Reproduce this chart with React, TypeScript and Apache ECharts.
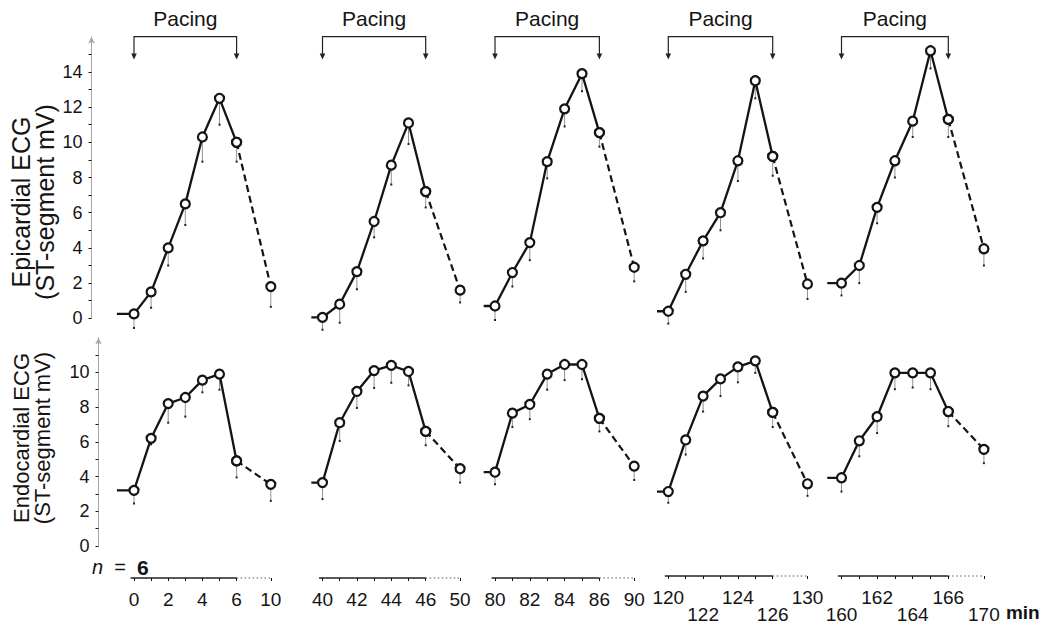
import React, { useEffect, useRef } from "react";
import * as echarts from "echarts";

// ---------- data ----------
const panelMinutes = [
  [0, 1, 2, 3, 4, 5, 6, 10],
  [40, 41, 42, 43, 44, 45, 46, 50],
  [80, 81, 82, 83, 84, 85, 86, 90],
  [120, 121, 122, 123, 124, 125, 126, 130],
  [160, 161, 162, 163, 164, 165, 166, 170],
];
const labelMinutes = [
  [0, 2, 4, 6, 10],
  [40, 42, 44, 46, 50],
  [80, 82, 84, 86, 90],
  [120, 122, 124, 126, 130],
  [160, 162, 164, 166, 170],
];
const lowerRowMinutes = [122, 126, 160, 164, 170];

const epiMean = [
  [0.25, 1.5, 4.0, 6.5, 10.3, 12.5, 10.0, 1.8],
  [0.05, 0.8, 2.65, 5.5, 8.7, 11.1, 7.2, 1.6],
  [0.7, 2.6, 4.3, 8.9, 11.9, 13.9, 10.55, 2.9],
  [0.4, 2.5, 4.4, 6.0, 8.95, 13.5, 9.2, 1.95],
  [2.0, 3.0, 6.3, 8.95, 11.2, 15.2, 11.3, 3.95],
];
const epiLow = [
  [-0.55, 0.6, 3.0, 5.3, 8.9, 11.0, 8.9, 0.65],
  [-0.65, -0.25, 1.65, 4.6, 7.6, 9.9, 6.3, 0.9],
  [-0.1, 1.8, 3.3, 7.95, 10.9, 12.9, 9.75, 2.1],
  [-0.3, 1.5, 3.4, 5.0, 7.8, 12.5, 8.1, 1.1],
  [1.3, 2.0, 5.4, 8.0, 10.3, 14.2, 10.3, 3.0],
];
const endoMean = [
  [3.2, 6.2, 8.2, 8.55, 9.55, 9.9, 4.9, 3.55],
  [3.65, 7.1, 8.9, 10.1, 10.4, 10.05, 6.6, 4.45],
  [4.25, 7.65, 8.15, 9.9, 10.45, 10.45, 7.35, 4.6],
  [3.05, 6.05, 8.6, 9.6, 10.3, 10.65, 7.65, 3.5],
  [3.85, 6.0, 7.4, 9.95, 9.95, 9.95, 7.7, 5.5],
];
const endoLow = [
  [2.45, 5.85, 7.1, 7.45, 8.85, 9.0, 3.95, 2.6],
  [2.7, 6.05, 7.95, 9.1, 9.4, 9.25, 5.8, 3.65],
  [3.55, 6.85, 7.3, 9.0, 9.55, 9.6, 6.6, 3.8],
  [2.4, 5.2, 7.7, 8.6, 9.4, 9.95, 6.8, 2.8],
  [3.05, 5.1, 6.45, 9.0, 9.1, 9.0, 6.85, 4.7],
];
const epiTicks = [0, 2, 4, 6, 8, 10, 12, 14];
const endoTicks = [0, 2, 4, 6, 8, 10];
const epiTitle = "Epicardial ECG\n(ST-segment mV)";
const endoTitle = "Endocardial ECG\n(ST-segment mV)";

// ---------- layout ----------
const FONT = "'Liberation Sans', Arial, Helvetica, sans-serif";
const pos0 = [134, 322.5, 495, 668.3, 841.5];
const step = [17.1, 17.2, 17.4, 17.4, 17.8];
const stubStart = [-1, -0.65, -0.65, -0.65, -0.8];
const X_AXIS_OFFSET = 32;
const INK = "#141414";

const posOf = (i: number) => (i <= 6 ? i : 8);
const idxOf = (p: number) => (p <= 6 ? p : 7);

function buildOption() {
  const grid: any[] = [];
  const xAxis: any[] = [];
  const yAxis: any[] = [];
  const series: any[] = [];

  for (let row = 0; row < 2; row++) {
    for (let p = 0; p < 5; p++) {
      const gi = row * 5 + p;
      const left = pos0[p] - step[p];
      const width = 9 * step[p];
      if (row === 0) grid.push({ left, width, top: 36.7, height: 281.6 });
      else grid.push({ left, width, top: 337.6, height: 208.4 });

      const labelPos = labelMinutes[p].map((m) => posOf(panelMinutes[p].indexOf(m)));
      xAxis.push({
        type: "value",
        gridIndex: gi,
        min: -1,
        max: 8,
        interval: 1,
        show: row === 1,
        position: "bottom",
        offset: X_AXIS_OFFSET,
        axisLine: { show: false, onZero: false },
        splitLine: { show: false },
        axisTick: {
          show: true,
          length: 3,
          customValues: [0, 1, 2, 3, 4, 5, 6, 8],
          lineStyle: { color: INK, width: 1 },
        },
        axisLabel: {
          customValues: labelPos,
          fontSize: 19,
          fontFamily: FONT,
          color: INK,
          margin: 13,
          lineHeight: 17,
          formatter: (v: number) => {
            if (!labelPos.includes(v)) return "";
            const m = panelMinutes[p][idxOf(v)];
            return lowerRowMinutes.includes(m) ? "\n" + m : String(m);
          },
        },
      });

      const isFirst = p === 0;
      const ticks = row === 0 ? epiTicks : endoTicks;
      const max = row === 0 ? 16 : 12;
      const tickVals: number[] = [];
      for (let v = 0; v < max; v++) tickVals.push(v);
      yAxis.push({
        type: "value",
        gridIndex: gi,
        min: 0,
        max,
        interval: 1,
        show: isFirst,
        position: "left",
        offset: isFirst ? (row === 0 ? left - 91.5 : left - 98.5) : 0,
        axisLine: {
          show: true,
          onZero: false,
          symbol: ["none", "arrow"],
          symbolSize: [5, 7],
          lineStyle: { color: "#a8a8a8", width: 1 },
        },
        splitLine: { show: false },
        axisTick: {
          show: true,
          length: 3,
          customValues: tickVals,
          lineStyle: { color: INK, width: 1 },
        },
        axisLabel: {
          customValues: ticks,
          fontSize: 18,
          fontFamily: FONT,
          color: INK,
          margin: 9,
          formatter: (v: number) => (ticks.includes(v) ? String(v) : ""),
        },
      });

      const mean = row === 0 ? epiMean[p] : endoMean[p];
      const low = row === 0 ? epiLow[p] : endoLow[p];

      // error bars (SD, drawn downward)
      series.push({
        type: "custom",
        xAxisIndex: gi,
        yAxisIndex: gi,
        silent: true,
        z: 1,
        encode: { x: 0, y: [1, 2] },
        data: mean.map((v, i) => [posOf(i), v, low[i]]),
        renderItem: (params: any, api: any) => {
          const a = api.coord([api.value(0), api.value(1)]);
          const b = api.coord([api.value(0), api.value(2)]);
          return {
            type: "group",
            children: [
              {
                type: "line",
                shape: { x1: a[0], y1: a[1], x2: b[0], y2: b[1] },
                style: { stroke: "#777", lineWidth: 0.8 },
              },
              {
                type: "rect",
                shape: { x: b[0] - 1, y: b[1] - 1, width: 2, height: 2 },
                style: { fill: "#222" },
              },
            ],
          };
        },
      });

      // pacing period (solid), with pre-pacing baseline stub
      const solid: any[] = [{ value: [stubStart[p], mean[0]], symbol: "none" }];
      for (let i = 0; i <= 6; i++) solid.push({ value: [posOf(i), mean[i]] });
      series.push({
        type: "line",
        xAxisIndex: gi,
        yAxisIndex: gi,
        z: 3,
        clip: false,
        data: solid,
        symbol: "circle",
        symbolSize: 9,
        showAllSymbol: true,
        lineStyle: { color: INK, width: 2.3 },
        itemStyle: { color: "#fff", borderColor: INK, borderWidth: 2.2 },
      });
      // recovery (dashed)
      series.push({
        type: "line",
        xAxisIndex: gi,
        yAxisIndex: gi,
        z: 2,
        clip: false,
        data: [
          [posOf(6), mean[6]],
          [posOf(7), mean[7]],
        ],
        symbol: "circle",
        symbolSize: 9,
        lineStyle: { color: INK, width: 2.2, type: [7, 4] },
        itemStyle: { color: "#fff", borderColor: INK, borderWidth: 2.2 },
      });
    }
  }

  return {
    animation: false,
    backgroundColor: "#fff",
    textStyle: { fontFamily: FONT },
    grid,
    xAxis,
    yAxis,
    series,
  };
}

function buildGraphics(chart: any) {
  const g: any[] = [];
  const px = (gi: number, x: number, y: number) =>
    chart.convertToPixel({ xAxisIndex: gi, yAxisIndex: gi }, [x, y]);

  // y-axis titles (rotated)
  const titles = [
    { text: epiTitle, x: 33, y: 202, size: 25, lh: 24 },
    { text: endoTitle, x: 32, y: 438, size: 22, lh: 21 },
  ];
  titles.forEach((t) =>
    g.push({
      type: "text",
      x: t.x,
      y: t.y,
      rotation: Math.PI / 2,
      style: {
        text: t.text,
        fontSize: t.size,
        lineHeight: t.lh,
        fontFamily: FONT,
        fill: INK,
        align: "center",
        verticalAlign: "middle",
        textAlign: "center",
        textVerticalAlign: "middle",
      },
    })
  );

  for (let p = 0; p < 5; p++) {
    // "Pacing" bracket over the top panel
    const a = px(p, 0, 16);
    const b = px(p, 6, 16);
    const a2 = px(p, 0, 14.7);
    const b2 = px(p, 6, 14.7);
    g.push({
      type: "polyline",
      shape: { points: [[a2[0], a2[1] - 5], a, b, [b2[0], b2[1] - 5]] },
      style: { stroke: "#222", lineWidth: 1.2, fill: null },
    });
    [a2, b2].forEach((t) =>
      g.push({
        type: "polygon",
        shape: { points: [[t[0] - 2.8, t[1] - 6], [t[0] + 2.8, t[1] - 6], [t[0], t[1]]] },
        style: { fill: "#222" },
      })
    );
    const c = px(p, 3, 17.05);
    g.push({
      type: "text",
      x: c[0],
      y: c[1],
      style: {
        text: "Pacing",
        fontSize: 21,
        fontFamily: FONT,
        fill: INK,
        align: "center",
        verticalAlign: "middle",
        textAlign: "center",
        textVerticalAlign: "middle",
      },
    });

    // broken time axis below the bottom panel
    const gi = 5 + p;
    const ay = px(gi, 0, 0)[1] + X_AXIS_OFFSET;
    const s = px(gi, -0.2, 0)[0];
    const m = px(gi, 6, 0)[0];
    const e = px(gi, 8, 0)[0];
    g.push({
      type: "line",
      shape: { x1: s, y1: ay, x2: m, y2: ay },
      style: { stroke: "#222", lineWidth: 1.6 },
    });
    g.push({
      type: "line",
      shape: { x1: m, y1: ay, x2: e, y2: ay },
      style: { stroke: "#555", lineWidth: 1.2, lineDash: [1.5, 2.5] },
    });

    if (p === 0) {
      g.push({
        type: "text",
        x: 92,
        y: ay - 11,
        style: {
          text: "{i|n}  =  {b|6}",
          fontSize: 20,
          fontFamily: FONT,
          fill: INK,
          verticalAlign: "middle",
          textVerticalAlign: "middle",
          rich: {
            i: { fontStyle: "italic", fontSize: 20, fontFamily: FONT, fill: INK },
            b: { fontWeight: "bold", fontSize: 21, fontFamily: FONT, fill: INK },
          },
        },
      });
    }
    if (p === 4) {
      g.push({
        type: "text",
        x: e + 22,
        y: ay + 36,
        style: {
          text: "min",
          fontSize: 19,
          fontWeight: "bold",
          fontFamily: FONT,
          fill: INK,
          verticalAlign: "middle",
          textVerticalAlign: "middle",
        },
      });
    }
  }
  return g;
}

export default function App() {
  const ref = useRef<HTMLDivElement>(null);
  useEffect(() => {
    document.body.style.margin = "0";
    if (!ref.current) return;
    const chart = echarts.init(ref.current, null, { renderer: "svg" });
    chart.setOption(buildOption());
    chart.setOption({ graphic: buildGraphics(chart) });
    return () => chart.dispose();
  }, []);
  return <div ref={ref} style={{ width: 1053, height: 624, background: "#fff" }} />;
}
